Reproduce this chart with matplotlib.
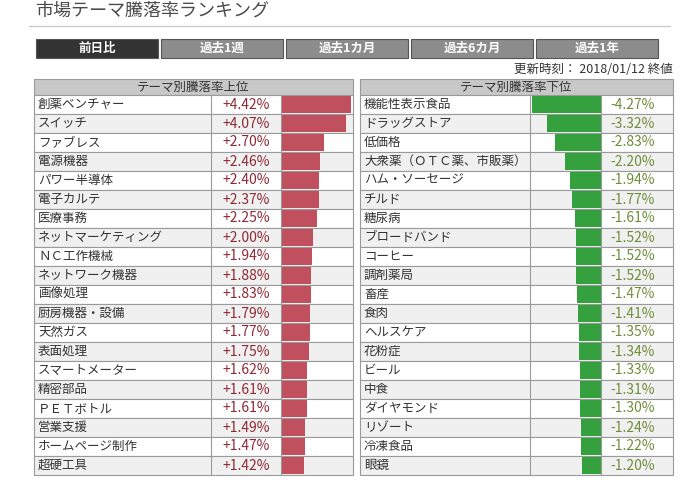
import numpy as np
import matplotlib.pyplot as plt
from matplotlib.patches import Rectangle

plt.rcParams['font.family'] = ['Noto Sans CJK JP', 'DejaVu Sans']

# data
title = "市場テーマ騰落率ランキング"
tabs = ["前日比", "過去1週", "過去1カ月", "過去6カ月", "過去1年"]
updated = "更新時刻： 2018/01/12 終値"
up_header = "テーマ別騰落率上位"
down_header = "テーマ別騰落率下位"

up_names = ["創薬ベンチャー", "スイッチ", "ファブレス", "電源機器", "パワー半導体",
            "電子カルテ", "医療事務", "ネットマーケティング", "ＮＣ工作機械", "ネットワーク機器",
            "画像処理", "厨房機器・設備", "天然ガス", "表面処理", "スマートメーター",
            "精密部品", "ＰＥＴボトル", "営業支援", "ホームページ制作", "超硬工具"]
up_vals = [4.42, 4.07, 2.70, 2.46, 2.40, 2.37, 2.25, 2.00, 1.94, 1.88,
           1.83, 1.79, 1.77, 1.75, 1.62, 1.61, 1.61, 1.49, 1.47, 1.42]

down_names = ["機能性表示食品", "ドラッグストア", "低価格", "大衆薬（ＯＴＣ薬、市販薬）", "ハム・ソーセージ",
              "チルド", "糖尿病", "ブロードバンド", "コーヒー", "調剤薬局",
              "畜産", "食肉", "ヘルスケア", "花粉症", "ビール",
              "中食", "ダイヤモンド", "リゾート", "冷凍食品", "眼鏡"]
down_vals = [-4.27, -3.32, -2.83, -2.20, -1.94, -1.77, -1.61, -1.52, -1.52, -1.52,
             -1.47, -1.41, -1.35, -1.34, -1.33, -1.31, -1.30, -1.24, -1.22, -1.20]

W, H = 699, 503
fig = plt.figure(figsize=(W / 100, H / 100), dpi=100)
ax = fig.add_axes([0, 0, 1, 1])
ax.set_xlim(0, W)
ax.set_ylim(H, 0)
ax.axis('off')

# title and rule
ax.text(35, 11, title, fontsize=13, color='#4a4a4a', va='center', ha='left')
ax.plot([29, 670], [26, 26], color='#cccccc', lw=1)

# tabs
for i, t in enumerate(tabs):
    x = 36 + i * 125
    fc = '#333333' if i == 0 else '#8c8c8c'
    ax.add_patch(Rectangle((x, 39), 122, 19, facecolor=fc, edgecolor='#555555', lw=0.8))
    ax.text(x + 61, 48.5, t, color='white', fontsize=9, fontweight='bold',
            ha='center', va='center')

ax.text(673, 69, updated, fontsize=9, color='#333333', ha='right', va='center')

top, hdr_h, row_h = 79, 16, 19
n = len(up_names)
bottom = top + hdr_h + n * row_h
line_c = '#9a9a9a'


def draw_table(x0, c1, c2, x1, header, names, vals, val_x, val_color, bar_left, bar_right, color):
    ax.add_patch(Rectangle((x0, top), x1 - x0, hdr_h, facecolor='#c8c8c8', edgecolor=line_c, lw=0.8))
    ax.text((x0 + x1) / 2, top + hdr_h / 2, header, fontsize=9, color='#333333',
            ha='center', va='center')
    for i in range(n):
        y = top + hdr_h + i * row_h
        fc = 'white' if i % 2 == 0 else '#f0f0f0'
        ax.add_patch(Rectangle((x0, y), x1 - x0, row_h, facecolor=fc, edgecolor=line_c, lw=0.8))
        ax.text(x0 + 4, y + row_h / 2, names[i], fontsize=9, color='#333333',
                ha='left', va='center')
        ax.text(val_x, y + row_h / 2, f"{vals[i]:+.2f}%", fontsize=10, color=val_color,
                ha='right', va='center')
    for cx in (c1, c2):
        ax.plot([cx, cx], [top + hdr_h, bottom], color=line_c, lw=0.8)

    # bars in their own axes
    bx = fig.add_axes([bar_left / W, 1 - bottom / H, (bar_right - bar_left) / W, (n * row_h) / H])
    bx.barh(np.arange(n), vals, height=0.88, color=color)
    if vals[0] > 0:
        bx.set_xlim(0, max(vals))
    else:
        bx.set_xlim(min(vals), 0)
    bx.set_ylim(n - 0.5, -0.5)
    bx.axis('off')
    bx.patch.set_alpha(0)


draw_table(34, 211, 281, 353, up_header, up_names, up_vals, 270, '#8e2a35',
           282, 351, '#c1505f')
draw_table(360, 530, 601, 673, down_header, down_names, down_vals, 655, '#6f8e3a',
           532, 601, '#35a03e')

fig.savefig('out.png', dpi=100)
